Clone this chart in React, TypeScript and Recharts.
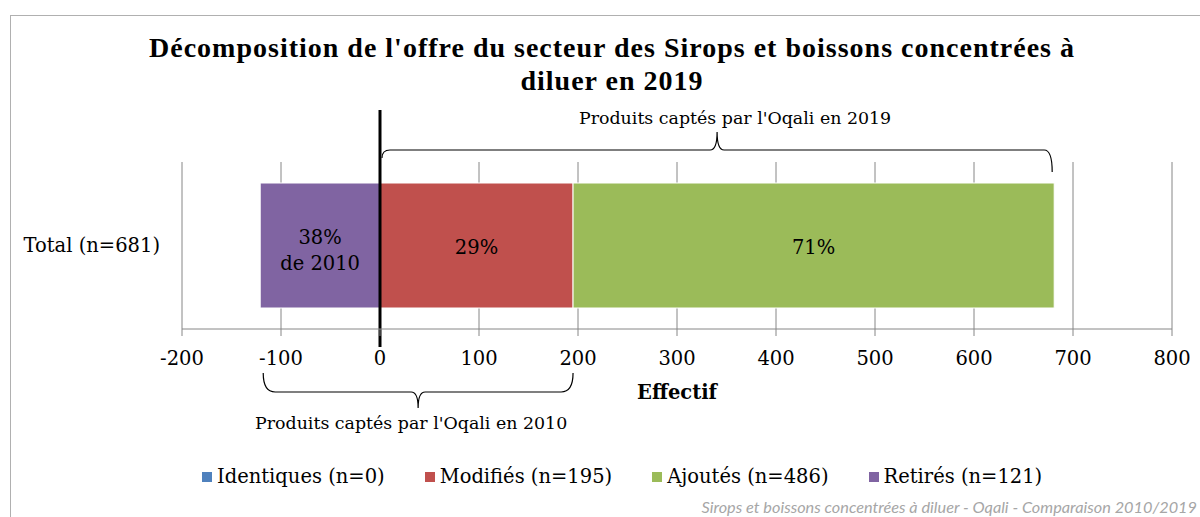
import React from 'react';
import {
  BarChart,
  Bar,
  XAxis,
  YAxis,
  CartesianGrid,
  ReferenceLine,
  ReferenceArea,
  Legend,
  LabelList,
} from 'recharts';

// ---- data ----
const categories = ['Total (n=681)'];
const identiques = [0];
const modifies = [195];
const ajoutes = [486];
const retires = [-121];
const modifiesLabels = ['29%'];
const ajoutesLabels = ['71%'];
const retiresLabels = ['38%\nde 2010'];
const seriesKeys = ['identiques', 'modifies', 'ajoutes', 'retires'];
const seriesNames = ['Identiques (n=0)', 'Modifiés (n=195)', 'Ajoutés (n=486)', 'Retirés (n=121)'];
const seriesColors = ['#4F81BD', '#C0504D', '#9BBB59', '#8064A2'];
const xTicks = [-200, -100, 0, 100, 200, 300, 400, 500, 600, 700, 800];
const span2019 = [0, 681];
const span2010 = [-121, 195];
const label2019 = "Produits captés par l'Oqali en 2019";
const label2010 = "Produits captés par l'Oqali en 2010";
const titleLines = [
  "Décomposition de l'offre du secteur des Sirops et boissons concentrées à",
  'diluer en 2019',
];
const axisTitle = 'Effectif';
const footer = 'Sirops et boissons concentrées à diluer - Oqali - Comparaison 2010/2019';

const data = categories.map((name, i) => ({
  name,
  identiques: identiques[i],
  modifies: modifies[i],
  ajoutes: ajoutes[i],
  retires: retires[i],
  modLabel: modifiesLabels[i],
  ajLabel: ajoutesLabels[i],
  retLabel: retiresLabels[i],
}));

const SERIF = '"DejaVu Serif", serif';
const TXT = 19.5;

const centerLabel = (props: any) => {
  const { x, y, width, height, value } = props;
  const cx = Number(x) + Number(width) / 2;
  const cy = Number(y) + Number(height) / 2;
  const lines = String(value).split('\n');
  const lh = 26;
  const startY = cy - ((lines.length - 1) * lh) / 2 + (lines.length > 1 ? 4 : 1);
  return (
    <text
      x={cx}
      y={startY}
      textAnchor="middle"
      dominantBaseline="central"
      fontFamily={SERIF}
      fontSize={TXT}
      fill="#000"
    >
      {lines.map((l, i) => (
        <tspan key={i} x={cx} dy={i === 0 ? 0 : lh}>
          {l}
        </tspan>
      ))}
    </text>
  );
};

const braceTop = (props: any) => {
  const { x, y, width } = props;
  const x0 = Number(x) + 2;
  const x1 = Number(x) + Number(width) - 2;
  const mx = (x0 + x1) / 2;
  const yL = Number(y) - 12;
  const yEnd = Number(y) + 10;
  const yTip = Number(y) - 30;
  const d = `M ${x0} ${yL + 8} Q ${x0} ${yL} ${x0 + 8} ${yL} L ${mx - 7} ${yL} Q ${mx} ${yL} ${mx} ${yTip} Q ${mx} ${yL} ${mx + 7} ${yL} L ${x1 - 8} ${yL} Q ${x1} ${yL} ${x1} ${yEnd}`;
  return (
    <g>
      <path d={d} fill="none" stroke="#000" strokeWidth={1.2} />
      <text
        x={mx + 18}
        y={Number(y) - 44}
        textAnchor="middle"
        dominantBaseline="central"
        fontFamily={SERIF}
        fontSize={17.4}
        fill="#000"
      >
        {label2019}
      </text>
    </g>
  );
};

const braceBottom = (props: any) => {
  const { x, y, width, height } = props;
  const bottom = Number(y) + Number(height);
  const x0 = Number(x) + 3;
  const x1 = Number(x) + Number(width);
  const mx = (x0 + x1) / 2;
  const yL = bottom + 63;
  const yEnd = bottom + 44;
  const yTip = bottom + 79;
  const d = `M ${x0} ${yEnd} Q ${x0} ${yL} ${x0 + 12} ${yL} L ${mx - 7} ${yL} Q ${mx} ${yL} ${mx} ${yTip} Q ${mx} ${yL} ${mx + 7} ${yL} L ${x1 - 12} ${yL} Q ${x1} ${yL} ${x1} ${yEnd}`;
  return (
    <g>
      <path d={d} fill="none" stroke="#000" strokeWidth={1.2} />
      <text
        x={mx - 7}
        y={bottom + 94}
        textAnchor="middle"
        dominantBaseline="central"
        fontFamily={SERIF}
        fontSize={17.4}
        fill="#000"
      >
        {label2010}
      </text>
    </g>
  );
};

const zeroLine = (props: any) => {
  const { x1, y1, x2, y2 } = props;
  const top = Math.min(Number(y1), Number(y2));
  const bot = Math.max(Number(y1), Number(y2));
  return <line x1={x1} x2={x2} y1={top - 52} y2={bot + 18} stroke="#000" strokeWidth={3} />;
};

const legendContent = () => (
  <div
    style={{
      display: 'flex',
      alignItems: 'center',
      paddingLeft: 202,
      fontFamily: SERIF,
      fontSize: TXT,
      color: '#000',
      whiteSpace: 'nowrap',
    }}
  >
    {seriesNames.map((n, i) => (
      <div key={n} style={{ display: 'flex', alignItems: 'center', marginRight: 40 }}>
        <span
          style={{
            display: 'inline-block',
            width: 10,
            height: 10,
            background: seriesColors[i],
            marginRight: 5,
          }}
        />
        <span>{n}</span>
      </div>
    ))}
  </div>
);

export default function App() {
  return (
    <div style={{ position: 'absolute', left: 0, top: 0, width: 1200, height: 517, background: '#fff', overflow: 'hidden' }}>
      <div
        style={{
          position: 'absolute',
          left: 10,
          top: 15,
          width: 1190,
          height: 502,
          borderLeft: '1px solid #b0b0b0',
          borderTop: '1px solid #b0b0b0',
        }}
      />
      <div
        style={{
          position: 'absolute',
          left: 12,
          top: 31,
          width: 1200,
          textAlign: 'center',
          fontFamily: '"Liberation Serif", serif',
          fontWeight: 'bold',
          fontSize: 28,
          letterSpacing: 1,
          lineHeight: '33px',
          color: '#000',
        }}
      >
        {titleLines.map((t) => (
          <div key={t} style={{ whiteSpace: 'nowrap' }}>{t}</div>
        ))}
      </div>
      <div style={{ position: 'absolute', left: 0, top: 0 }}>
        <BarChart
          width={1200}
          height={517}
          data={data}
          layout="vertical"
          stackOffset="sign"
          barSize={125}
          margin={{ top: 162, right: 28, bottom: 158, left: 0 }}
        >
          <CartesianGrid horizontal={false} vertical stroke="#868686" strokeWidth={1} />
          <XAxis
            type="number"
            domain={[-200, 800]}
            ticks={xTicks}
            interval={0}
            height={30}
            axisLine={{ stroke: '#868686' }}
            tickLine={{ stroke: '#868686' }}
            tickSize={7}
            tickMargin={15}
            tick={{ fill: '#000', fontFamily: SERIF, fontSize: TXT }}
            label={{
              content: (p: any) => {
                const vb = p.viewBox || {};
                return (
                  <text
                    x={Number(vb.x) + Number(vb.width) / 2}
                    y={Number(vb.y) + 63}
                    textAnchor="middle"
                    dominantBaseline="central"
                    fontFamily={SERIF}
                    fontWeight="bold"
                    fontSize={TXT}
                    fill="#000"
                  >
                    {axisTitle}
                  </text>
                );
              },
            }}
          />
          <YAxis
            type="category"
            dataKey="name"
            width={182}
            axisLine={false}
            tickLine={false}
            tickMargin={16}
            tick={{ fill: '#000', fontFamily: SERIF, fontSize: TXT }}
          />
          {seriesKeys.map((k, i) => (
            <Bar
              key={k}
              dataKey={k}
              name={seriesNames[i]}
              stackId="a"
              fill={seriesColors[i]}
              stroke="#ffffff"
              strokeWidth={1}
              isAnimationActive={false}
            >
              {k === 'modifies' && <LabelList dataKey="modLabel" content={centerLabel} />}
              {k === 'ajoutes' && <LabelList dataKey="ajLabel" content={centerLabel} />}
              {k === 'retires' && <LabelList dataKey="retLabel" content={centerLabel} />}
            </Bar>
          ))}
          <ReferenceArea x1={span2019[0]} x2={span2019[1]} ifOverflow="visible" shape={braceTop} />
          <ReferenceArea x1={span2010[0]} x2={span2010[1]} ifOverflow="visible" shape={braceBottom} />
          <ReferenceLine x={0} ifOverflow="visible" shape={zeroLine} />
          <Legend
            verticalAlign="middle"
            align="center"
            layout="horizontal"
            content={legendContent}
            wrapperStyle={{ top: 465, left: 0, width: 1200 }}
          />
        </BarChart>
      </div>
      <div
        style={{
          position: 'absolute',
          right: 3,
          top: 497,
          fontFamily: 'Lato, sans-serif',
          fontStyle: 'italic',
          fontSize: 16.3,
          color: '#a6a6a6',
          whiteSpace: 'nowrap',
        }}
      >
        {footer}
      </div>
    </div>
  );
}
